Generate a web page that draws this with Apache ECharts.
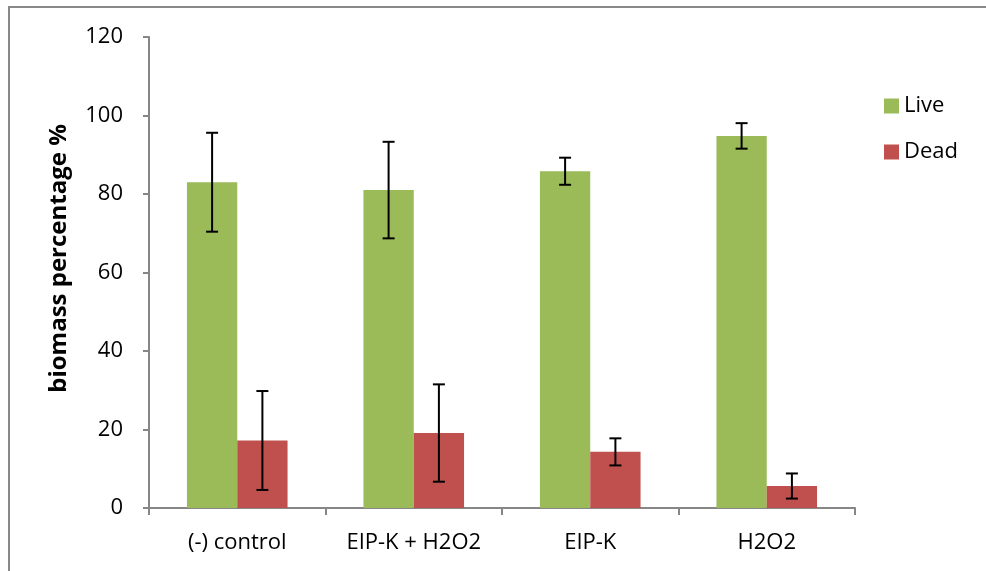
<!DOCTYPE html>
<html>
<head>
<meta charset="utf-8">
<script src="https://cdn.jsdelivr.net/npm/echarts@6/dist/echarts.min.js"></script>
<style>
html,body{margin:0;padding:0;background:#fff;}
#chart{width:986px;height:571px;}
</style>
</head>
<body>
<div id="chart"></div>
<script>
var categories = ['(-) control', 'EIP-K + H2O2', 'EIP-K', 'H2O2'];
var liveValues = [83.0, 81.0, 85.8, 94.8];
var deadValues = [17.2, 19.1, 14.3, 5.6];
var liveErrors = [12.6, 12.3, 3.45, 3.25];
var deadErrors = [12.6, 12.4, 3.45, 3.2];
var yTicks = [0, 20, 40, 60, 80, 100, 120];

var CAT_GAP = 0.43;
var FONT = '"Open Sans", sans-serif';

function errData(vals, errs) {
  return vals.map(function (v, i) { return [i, v, errs[i]]; });
}
function makeErrRender(side) {
  return function (params, api) {
    var idx = api.value(0), v = api.value(1), e = api.value(2);
    var catW = api.size([1, 0])[0];
    var barW = catW * (1 - CAT_GAP) / 2;
    var c = api.coord([idx, v]);
    var x = c[0] + side * barW / 2;
    var top = api.coord([idx, v + e])[1];
    var bot = api.coord([idx, v - e])[1];
    var cap = 6;
    var st = { stroke: '#000', lineWidth: 2 };
    return {
      type: 'group',
      children: [
        { type: 'line', shape: { x1: x, y1: top, x2: x, y2: bot }, style: st },
        { type: 'line', shape: { x1: x - cap, y1: top, x2: x + cap, y2: top }, style: st },
        { type: 'line', shape: { x1: x - cap, y1: bot, x2: x + cap, y2: bot }, style: st }
      ]
    };
  };
}

var chart = echarts.init(document.getElementById('chart'), null, { renderer: 'canvas' });
chart.setOption({
  animation: false,
  backgroundColor: '#fff',
  graphic: [{
    type: 'rect',
    shape: { x: 9, y: 7, width: 1000, height: 600 },
    style: { fill: 'none', stroke: '#888', lineWidth: 2 },
    z: -1
  }],
  grid: { left: 149, right: 131, top: 37, bottom: 63 },
  legend: {
    orient: 'vertical',
    left: 879, top: 90,
    itemWidth: 15, itemHeight: 15, itemGap: 24,
    icon: 'rect',
    data: ['Live', 'Dead'],
    textStyle: { fontFamily: FONT, fontSize: 22, color: '#000', padding: [0, 0, 0, 0] }
  },
  xAxis: {
    type: 'category',
    data: categories,
    axisLine: { lineStyle: { color: '#868686', width: 2 } },
    axisTick: { show: true, length: 7, lineStyle: { color: '#868686', width: 2 } },
    axisLabel: { fontFamily: FONT, fontSize: 22, color: '#000', margin: 24 }
  },
  yAxis: {
    type: 'value',
    min: 0, max: 120, interval: 20,
    name: 'biomass percentage %',
    nameLocation: 'middle',
    nameGap: 78,
    nameTextStyle: { fontFamily: FONT, fontSize: 24, fontWeight: 'bold', color: '#000', padding: [0, 0, 0, 28] },
    axisLine: { show: true, lineStyle: { color: '#868686', width: 2 } },
    axisTick: { show: true, length: 6, lineStyle: { color: '#868686', width: 2 } },
    splitLine: { show: false },
    axisLabel: {
      fontFamily: FONT, fontSize: 22, color: '#000', margin: 26,
      formatter: function (v) { return yTicks.indexOf(v) >= 0 ? String(v) : ''; }
    }
  },
  series: [
    {
      name: 'Live', type: 'bar', data: liveValues,
      barGap: '0%', barCategoryGap: (CAT_GAP * 100) + '%',
      itemStyle: { color: '#9BBB59' }
    },
    {
      name: 'Dead', type: 'bar', data: deadValues,
      barGap: '0%', barCategoryGap: (CAT_GAP * 100) + '%',
      itemStyle: { color: '#C0504D' }
    },
    {
      name: 'LiveErr', type: 'custom', data: errData(liveValues, liveErrors),
      renderItem: makeErrRender(-1), z: 10,
      encode: { x: 0, y: 1 }
    },
    {
      name: 'DeadErr', type: 'custom', data: errData(deadValues, deadErrors),
      renderItem: makeErrRender(1), z: 10,
      encode: { x: 0, y: 1 }
    }
  ]
});
</script>
</body>
</html>
